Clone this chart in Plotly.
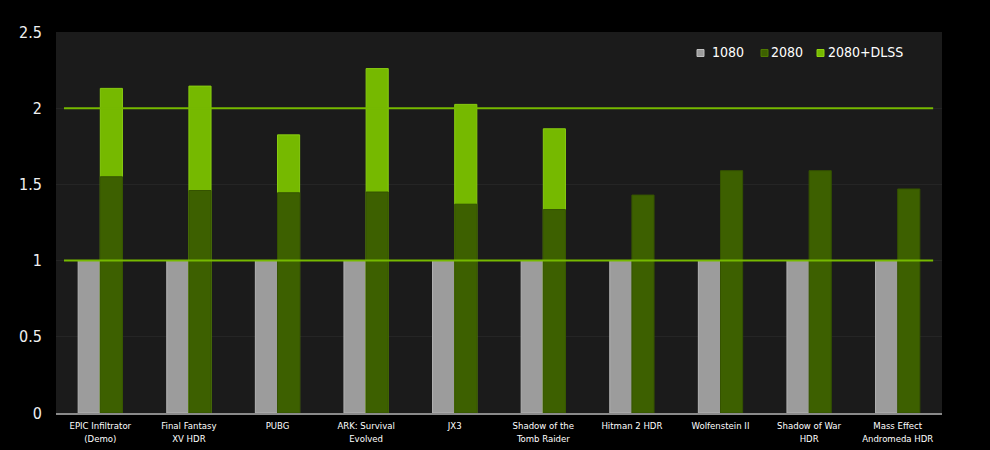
import plotly.graph_objects as go

categories = ["EPIC Infiltrator<br>(Demo)", "Final Fantasy<br>XV HDR", "PUBG", "ARK: Survival<br>Evolved", "JX3",
              "Shadow of the<br>Tomb Raider", "Hitman 2 HDR", "Wolfenstein II", "Shadow of War<br>HDR",
              "Mass Effect<br>Andromeda HDR"]
gtx1080 = [1, 1, 1, 1, 1, 1, 1, 1, 1, 1]
rtx2080 = [1.55, 1.46, 1.445, 1.45, 1.37, 1.335, 1.43, 1.59, 1.59, 1.47]
rtx2080_dlss = [2.13, 2.145, 1.825, 2.26, 2.025, 1.865, None, None, None, None]
yticks = [0, 0.5, 1, 1.5, 2, 2.5]
ref_lines = [1, 2]
series_names = ["1080", "2080", "2080+DLSS"]
series_colors = ["#9c9c9c", "#3d6000", "#76b900"]

FONT = "DejaVu Sans Condensed, DejaVu Sans"

fig = go.Figure()
fig.add_trace(go.Bar(name=series_names[0], x=categories, y=gtx1080, offset=-0.25, width=0.25,
                     marker=dict(color=series_colors[0], line=dict(color="#b4b4b4", width=1))))
fig.add_trace(go.Bar(name=series_names[2], x=categories, y=rtx2080_dlss, offset=0, width=0.25,
                     marker=dict(color=series_colors[2], line=dict(color="#88cc10", width=1))))
fig.add_trace(go.Bar(name=series_names[1], x=categories, y=rtx2080, offset=0, width=0.25,
                     marker=dict(color=series_colors[1], line=dict(color="#355300", width=1))))

for v in ref_lines:
    fig.add_shape(type="line", xref="paper", yref="y", x0=0.009, x1=0.99, y0=v, y1=v,
                  line=dict(color="#76b900", width=2), layer="above")

# custom legend (small square swatches + text)
plot_l, plot_w, plot_t, plot_h = 56, 886, 32, 381
def px_x(p): return (p - plot_l) / plot_w
def px_y(p): return 1 - (p - plot_t) / plot_h

legend_swatch_px = [697, 761, 817]
legend_text_px = [710, 769, 826]
legend_border = ["#c0c0c0", "#4f7a00", "#8fd410"]
for name, col, bcol, sx, tx in zip(series_names, series_colors, legend_border, legend_swatch_px, legend_text_px):
    fig.add_shape(type="rect", xref="paper", yref="paper", x0=px_x(sx), x1=px_x(sx + 7),
                  y0=px_y(56.5), y1=px_y(49.5), fillcolor=col, line=dict(color=bcol, width=1))
    fig.add_annotation(xref="paper", yref="paper", x=px_x(tx), y=px_y(52.5), xanchor="left",
                       yanchor="middle", text=name, showarrow=False,
                       font=dict(size=14, color="#ffffff", family=FONT))

fig.update_layout(
    width=990, height=450,
    paper_bgcolor="#000000", plot_bgcolor="#1b1b1b",
    barmode="overlay",
    margin=dict(l=56, r=48, t=32, b=37, autoexpand=False),
    font=dict(family=FONT, color="#ffffff"),
    showlegend=False,
    xaxis=dict(showgrid=False, showline=True, linecolor="#8a8a8a", linewidth=2,
               tickfont=dict(size=9.5, color="#ffffff"), ticks="", ticklabelstandoff=3,
               fixedrange=True, automargin=False),
    yaxis=dict(range=[0, 2.5], tickvals=yticks, ticktext=[f"{t:g}" for t in yticks],
               showgrid=True, gridcolor="#252525", gridwidth=1, zeroline=False, showline=False,
               tickfont=dict(size=16, color="#f0f0f0"), ticks="", ticklabelstandoff=13,
               automargin=False),
)

fig.write_html("out.html", config={"displayModeBar": False},
               post_script="document.body.style.margin='0';document.body.style.background='#000';")
